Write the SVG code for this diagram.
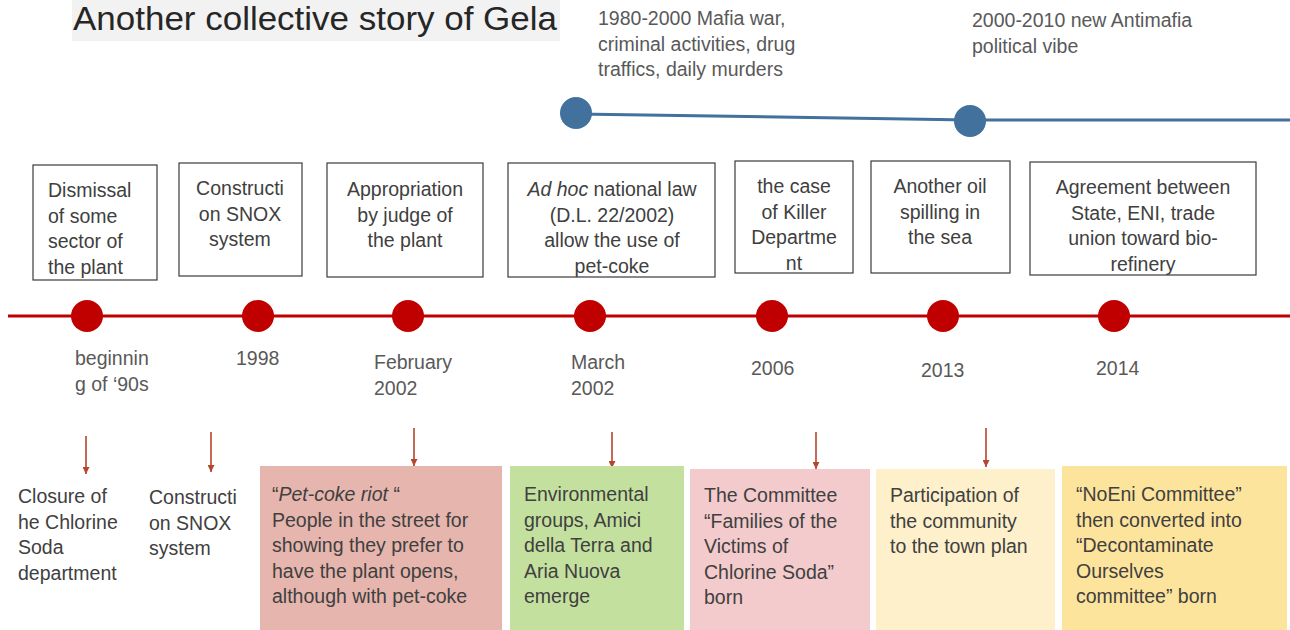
<svg xmlns="http://www.w3.org/2000/svg" width="1290" height="630" viewBox="0 0 1290 630">
<style>
text{font-family:"Liberation Sans",Arial,sans-serif;}
.t{font-size:19.5px;fill:#404040;}
.d{font-size:19.5px;fill:#595959;}
.c{text-anchor:middle;}
.box{fill:#ffffff;stroke:#3a3a3a;stroke-width:1.2;}
.red{stroke:#c00000;stroke-width:3;fill:none;}
.rdot{fill:#c00000;}
.blue{stroke:#41719c;stroke-width:3;fill:none;}
.bdot{fill:#41719c;}
.arr{stroke:#b5452c;stroke-width:1.6;fill:none;marker-end:url(#ah);}
</style>
<defs>
<marker id="ah" viewBox="0 0 10 10" refX="10" refY="5" markerWidth="8" markerHeight="7" markerUnits="userSpaceOnUse" orient="auto">
<path d="M0,0 L10,5 L0,10 Z" fill="#b5452c"/>
</marker>
</defs>
<rect width="1290" height="630" fill="#ffffff"/>
<g id="title">
<rect x="72" y="0" width="488" height="41" fill="#f2f2f2"/>
<text x="73" y="30" font-size="33.5" fill="#262626" textLength="484" lengthAdjust="spacingAndGlyphs">Another collective story of Gela</text>
</g>
<g id="eras">
<text class="d" x="598" y="25"><tspan x="598">1980-2000  Mafia war,</tspan><tspan x="598" dy="25.5">criminal activities, drug</tspan><tspan x="598" dy="25.5">traffics, daily murders</tspan></text>
<text class="d" x="972" y="27"><tspan x="972">2000-2010  new Antimafia</tspan><tspan x="972" dy="25.5">political vibe</tspan></text>
</g>
<g id="connectors">
<path class="blue" d="M576,114 L970,120 L1290,120"/>
<path class="red" d="M8,316 L1290,316"/>
<path class="arr" d="M86,436 V474"/>
<path class="arr" d="M211,432 V472"/>
<path class="arr" d="M414,428 V466"/>
<path class="arr" d="M612,432 V468"/>
<path class="arr" d="M816,432 V469"/>
<path class="arr" d="M986,428 V467"/>
</g>
<g id="era-dots">
<circle class="bdot" cx="576" cy="113" r="16"/>
<circle class="bdot" cx="970" cy="121" r="16"/>
</g>
<g id="dots">
<circle class="rdot" cx="87" cy="316" r="16"/>
<circle class="rdot" cx="258" cy="316" r="16"/>
<circle class="rdot" cx="408" cy="316" r="16"/>
<circle class="rdot" cx="590" cy="316" r="16"/>
<circle class="rdot" cx="772" cy="316" r="16"/>
<circle class="rdot" cx="943" cy="316" r="16"/>
<circle class="rdot" cx="1114" cy="316" r="16"/>
</g>
<g id="event1">
<rect class="box" x="33" y="165" width="124" height="115"/>
<text class="t"><tspan x="48" y="197">Dismissal</tspan><tspan x="48" dy="25.5">of some</tspan><tspan x="48" dy="25.5">sector of</tspan><tspan x="48" dy="25.5">the plant</tspan></text>
</g>
<g id="event2">
<rect class="box" x="179" y="163" width="123" height="113"/>
<text class="t c"><tspan x="240" y="195">Constructi</tspan><tspan x="240" dy="25.5">on SNOX</tspan><tspan x="240" dy="25.5">system</tspan></text>
</g>
<g id="event3">
<rect class="box" x="327" y="163" width="156" height="114"/>
<text class="t c"><tspan x="405" y="196">Appropriation</tspan><tspan x="405" dy="25.5">by judge of</tspan><tspan x="405" dy="25.5">the plant</tspan></text>
</g>
<g id="event4">
<rect class="box" x="508" y="163" width="207" height="114"/>
<text class="t c"><tspan x="612" y="196"><tspan font-style="italic">Ad hoc</tspan> national law</tspan><tspan x="612" dy="25.5">(D.L. 22/2002)</tspan><tspan x="612" dy="25.5">allow the use of</tspan><tspan x="612" dy="25.5">pet-coke</tspan></text>
</g>
<g id="event5">
<rect class="box" x="735" y="161" width="118" height="112"/>
<text class="t c"><tspan x="794" y="193">the case</tspan><tspan x="794" dy="25.5">of Killer</tspan><tspan x="794" dy="25.5">Departme</tspan><tspan x="794" dy="25.5">nt</tspan></text>
</g>
<g id="event6">
<rect class="box" x="871" y="161" width="139" height="112"/>
<text class="t c"><tspan x="940" y="193">Another oil</tspan><tspan x="940" dy="25.5">spilling in</tspan><tspan x="940" dy="25.5">the sea</tspan></text>
</g>
<g id="event7">
<rect class="box" x="1030" y="162" width="226" height="113"/>
<text class="t c"><tspan x="1143" y="194">Agreement between</tspan><tspan x="1143" dy="25.5">State, ENI, trade</tspan><tspan x="1143" dy="25.5">union toward bio-</tspan><tspan x="1143" dy="25.5">refinery</tspan></text>
</g>
<g id="dates">
<text class="d"><tspan x="75" y="365">beginnin</tspan><tspan x="75" dy="25.5">g of ‘90s</tspan></text>
<text class="d" x="236" y="365">1998</text>
<text class="d"><tspan x="374" y="369">February</tspan><tspan x="374" dy="25.5">2002</tspan></text>
<text class="d"><tspan x="571" y="369">March</tspan><tspan x="571" dy="25.5">2002</tspan></text>
<text class="d" x="751" y="375">2006</text>
<text class="d" x="921" y="377">2013</text>
<text class="d" x="1096" y="375">2014</text>
</g>
<g id="outcome1">
<text class="t"><tspan x="18" y="503">Closure of</tspan><tspan x="18" dy="25.5">he Chlorine</tspan><tspan x="18" dy="25.5">Soda</tspan><tspan x="18" dy="25.5">department</tspan></text>
</g>
<g id="outcome2">
<text class="t"><tspan x="149" y="504">Constructi</tspan><tspan x="149" dy="25.5">on SNOX</tspan><tspan x="149" dy="25.5">system</tspan></text>
</g>
<g id="outcome3">
<rect x="260" y="466" width="242" height="164" fill="#e6b5ad"/>
<text class="t"><tspan x="272" y="501">“<tspan font-style="italic">Pet-coke riot </tspan>“</tspan><tspan x="272" dy="25.5">People in the street for</tspan><tspan x="272" dy="25.5">showing they prefer to</tspan><tspan x="272" dy="25.5">have the plant opens,</tspan><tspan x="272" dy="25.5">although with pet-coke</tspan></text>
</g>
<g id="outcome4">
<rect x="510" y="466" width="174" height="164" fill="#c4e09f"/>
<text class="t"><tspan x="524" y="501">Environmental</tspan><tspan x="524" dy="25.5">groups, Amici</tspan><tspan x="524" dy="25.5">della Terra and</tspan><tspan x="524" dy="25.5">Aria Nuova</tspan><tspan x="524" dy="25.5">emerge</tspan></text>
</g>
<g id="outcome5">
<rect x="690" y="469" width="180" height="161" fill="#f3cbcc"/>
<text class="t"><tspan x="704" y="502">The Committee</tspan><tspan x="704" dy="25.5">“Families of the</tspan><tspan x="704" dy="25.5">Victims of</tspan><tspan x="704" dy="25.5">Chlorine Soda”</tspan><tspan x="704" dy="25.5">born</tspan></text>
</g>
<g id="outcome6">
<rect x="876" y="469" width="179" height="161" fill="#fdf0cb"/>
<text class="t"><tspan x="890" y="502">Participation of</tspan><tspan x="890" dy="25.5">the community</tspan><tspan x="890" dy="25.5">to the town plan</tspan></text>
</g>
<g id="outcome7">
<rect x="1062" y="466" width="225" height="164" fill="#fde49c"/>
<text class="t"><tspan x="1076" y="501">“NoEni Committee”</tspan><tspan x="1076" dy="25.5">then converted into</tspan><tspan x="1076" dy="25.5">“Decontaminate</tspan><tspan x="1076" dy="25.5">Ourselves</tspan><tspan x="1076" dy="25.5">committee” born</tspan></text>
</g>
</svg>
